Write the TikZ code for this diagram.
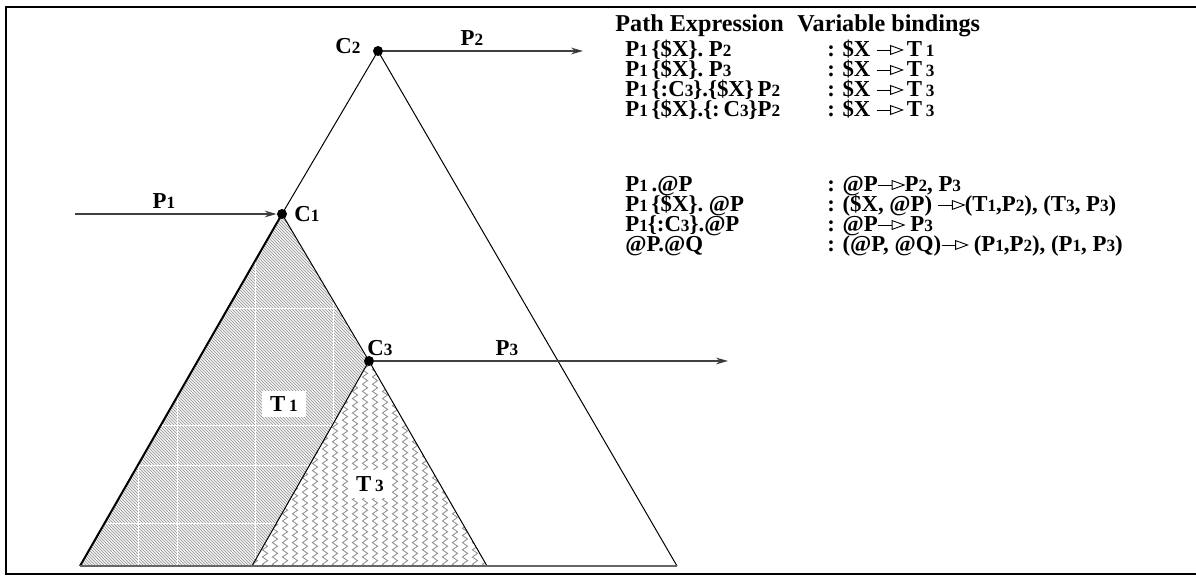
\documentclass[tikz,border=0pt]{standalone}
\usepackage{fontspec}
\setmainfont{Liberation Serif}
\usetikzlibrary{arrows.meta,decorations.pathmorphing}
\newcommand\dg[1]{{\fontsize{8.6}{9}\selectfont #1}}
\newcommand\oarr{\tikz[x=1pt,y=1pt,baseline=-3.5pt,line width=0.45pt]{\draw (0,0)--(7,0); \draw[fill=white] (7,2.2)--(13,0)--(7,-2.2)--cycle;}}
\tikzset{
  dot/.style={circle,fill=black,inner sep=0pt,minimum size=5pt},
  lbl/.style={inner sep=0pt,font=\bfseries\fontsize{11.4}{13}\selectfont},
  txt/.style={anchor=base west,inner sep=0pt,font=\bfseries\fontsize{11.4}{13}\selectfont},
  head/.style={anchor=base west,inner sep=0pt,font=\bfseries\fontsize{12.1}{14}\selectfont},
  arr/.style={draw=black!75,line width=0.6pt,-{Stealth[length=6pt,width=3.4pt,fill=black]}},
  edge/.style={draw=black,line width=0.5pt},
  tlabel/.style={fill=white,inner xsep=4pt,inner ysep=3pt,font=\bfseries\fontsize{11.4}{13}\selectfont}
}
\begin{document}
\begin{tikzpicture}[x=0.5pt,y=-0.5pt]
\useasboundingbox (0,0) rectangle (1196,576);
% key points
\coordinate (C1p) at (282,214);
\coordinate (C2p) at (378,51);
\coordinate (C3p) at (369,361);
\coordinate (bl) at (80,566);
\coordinate (t3l) at (252,566);
\coordinate (t3r) at (487,566);
\coordinate (br) at (677,566);
% T1 hatching
\begin{scope}
  \clip (C1p) -- (bl) -- (t3r) -- cycle;
  \foreach \x in {-420,-417,...,520} {
    \draw[black!36,line width=0.42pt] (\x,200) -- (\x+380,580);
  }
  \foreach \x in {138,177,255,333} \draw[white,line width=0.4pt] (\x,200) -- (\x,580);
  \foreach \y in {308,425,465,523} \draw[white,line width=0.4pt] (60,\y) -- (500,\y);
\end{scope}
% T3 wavy fill
\fill[white] (C3p) -- (t3l) -- (t3r) -- cycle;
\begin{scope}
  \clip (C3p) -- (t3l) -- (t3r) -- cycle;
  \foreach \x in {255,265,...,490} {
    \draw[black!45,line width=0.4pt,decorate,decoration={zigzag,segment length=3.6pt,amplitude=1.3pt}] (\x,350) -- (\x,575);
  }
\end{scope}
% frame
\draw[line width=1.3pt] (1196,7) -- (6,7) -- (6,574) -- (1196,574);
% triangle edges
\draw[edge] (C2p) -- (br);
\draw[edge] (C2p) -- (C1p);
\draw[edge,line width=1pt] (C1p) -- (bl);
\draw[edge] (C1p) -- (C3p);
\draw[edge] (C3p) -- (t3l);
\draw[edge] (C3p) -- (t3r);
\draw[draw=black!60,line width=1pt] (bl) -- (br);
% dots
\node[dot] (c1) at (C1p) {};
\node[dot] (c2) at (C2p) {};
\node[dot] (c3) at (C3p) {};
% arrows
\coordinate (p1s) at (75,214);
\coordinate (p2e) at (583,51);
\coordinate (p3e) at (728,361);
\draw[arr] (p1s) -- (c1.west);
\draw[arr] (c2.east) -- (p2e);
\draw[arr] (c3.east) -- (p3e);
% labels
\node[lbl] (lc2) at (348,46) {C\dg{2}};
\node[lbl] (lc1) at (307,214) {C\dg{1}};
\node[lbl] (lc3) at (380,348) {C\dg{3}};
\node[lbl] (lp1) at (164,201) {P\dg{1}};
\node[lbl] (lp2) at (472,38) {P\dg{2}};
\node[lbl] (lp3) at (507,348) {P\dg{3}};
\node[tlabel] (lt1) at (284,404) {T\,\dg{1}};
\node[tlabel] (lt3) at (370,484) {T\,\dg{3}};
% table
\node[head] (h1) at (615,32) {Path Expression};
\node[head] (h2) at (797,32) {Variable bindings};
\node[txt] (a1) at (625,57) {P\dg{1}\,\{\$X\}. P\dg{2}};
\node[txt] (a2) at (625,77) {P\dg{1}\,\{\$X\}. P\dg{3}};
\node[txt] (a3) at (625,97) {P\dg{1}\,\{:C\dg{3}\}.\{\$X\}\,P\dg{2}};
\node[txt] (a4) at (625,117) {P\dg{1}\,\{\$X\}.\{:\,C\dg{3}\}P\dg{2}};
\node[txt] (a5) at (625,192) {P\dg{1}\,.@P};
\node[txt] (a6) at (625,212) {P\dg{1}\,\{\$X\}. @P};
\node[txt] (a7) at (625,232) {P\dg{1}\{:C\dg{3}\}.@P};
\node[txt] (a8) at (625,252) {@P.@Q};
\node[txt] (b1) at (827,57) {: \$X \oarr\,T\,\dg{1}};
\node[txt] (b2) at (827,77) {: \$X \oarr\,T\,\dg{3}};
\node[txt] (b3) at (827,97) {: \$X \oarr\,T\,\dg{3}};
\node[txt] (b4) at (827,117) {: \$X \oarr\,T\,\dg{3}};
\node[txt] (b5) at (827,192) {: @P\oarr P\dg{2}, P\dg{3}};
\node[txt] (b6) at (827,212) {: (\$X, @P) \oarr(T\dg{1},P\dg{2}), (T\dg{3}, P\dg{3})};
\node[txt] (b7) at (827,232) {: @P\oarr\ P\dg{3}};
\node[txt] (b8) at (827,252) {: (@P, @Q)\oarr\ (P\dg{1},P\dg{2}), (P\dg{1}, P\dg{3})};
\end{tikzpicture}
\end{document}
